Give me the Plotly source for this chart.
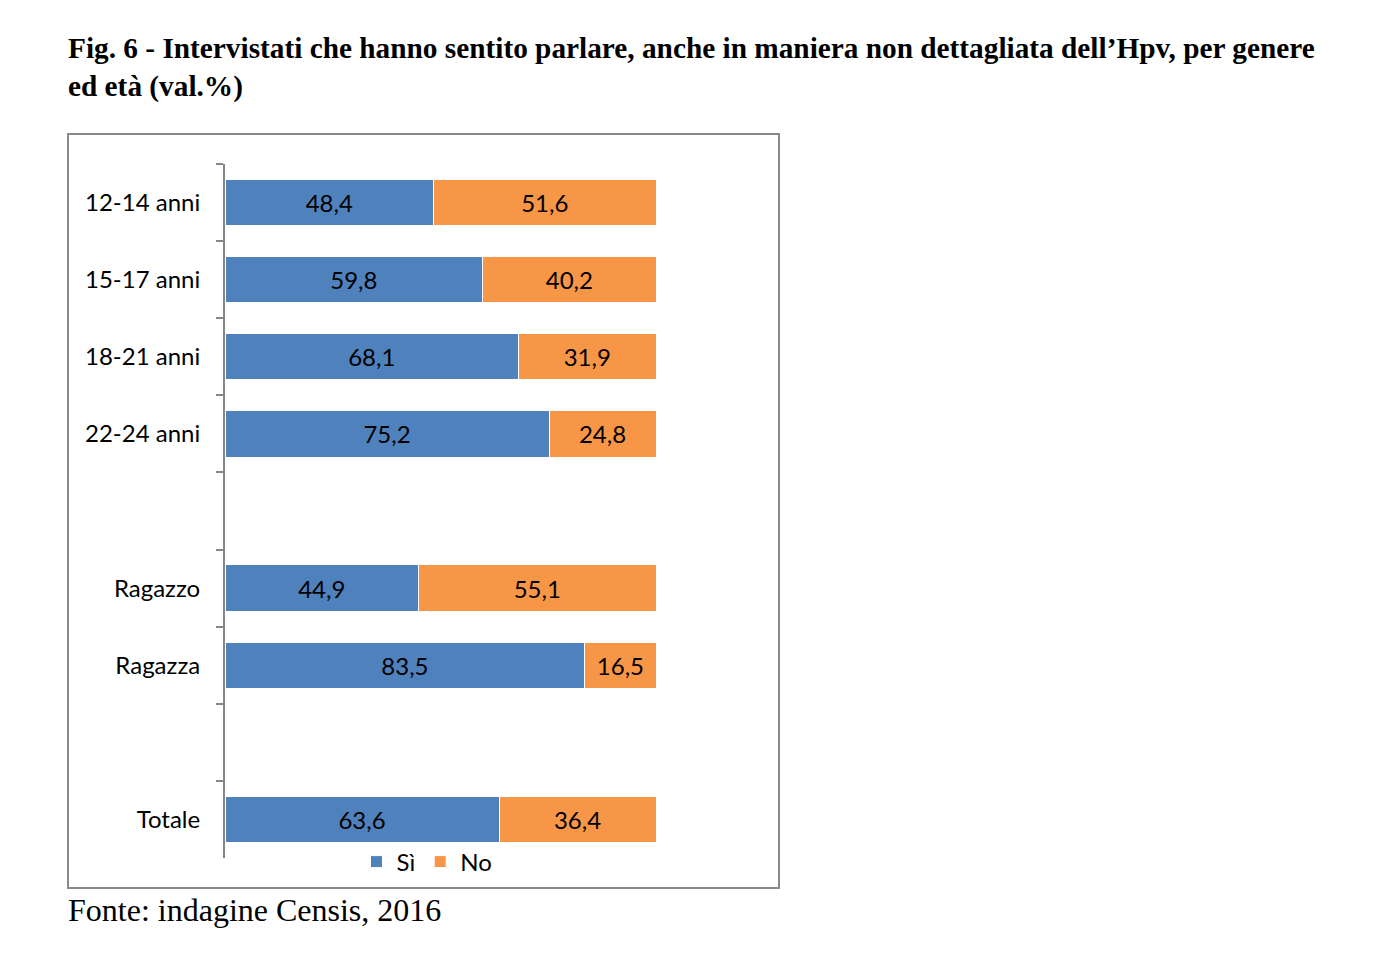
import plotly.graph_objects as go

categories = ["12-14 anni", "15-17 anni", "18-21 anni", "22-24 anni", " ", "Ragazzo", "Ragazza", "  ", "Totale"]
si_values = [48.4, 59.8, 68.1, 75.2, None, 44.9, 83.5, None, 63.6]
no_values = [51.6, 40.2, 31.9, 24.8, None, 55.1, 16.5, None, 36.4]

W, H = 1374, 953
OFF = 8  # page body margin
L, R = 225 - OFF, 656 - OFF
T, B = 164 - OFF, 858 - OFF

def px_x(px):
    return (px - OFF - L) / (R - L)

def px_y(py):
    return (B - (py - OFF)) / (B - T)

font_sans = "Lato, 'Open Sans', sans-serif"
font_serif = "'Liberation Serif', 'Times New Roman', serif"

fig = go.Figure()
fig.add_trace(go.Bar(
    y=categories, x=si_values, name="Sì", orientation="h",
    marker=dict(color="#4F81BD", line=dict(color="white", width=1)),
    texttemplate="%{x:.1f}", textposition="inside", insidetextanchor="middle",
    textfont=dict(color="black", size=24, family=font_sans),
))
fig.add_trace(go.Bar(
    y=categories, x=no_values, name="No", orientation="h",
    marker=dict(color="#F79646", line=dict(color="white", width=1)),
    texttemplate="%{x:.1f}", textposition="inside", insidetextanchor="middle",
    textfont=dict(color="black", size=24, family=font_sans),
))

fig.update_layout(
    width=W, height=H,
    barmode="stack", bargap=0.40,
    separators=",.",
    plot_bgcolor="white", paper_bgcolor="white",
    margin=dict(l=L, r=W - R, t=T, b=H - B, autoexpand=False),
    uniformtext=dict(mode="show", minsize=24),
    font=dict(family=font_sans, color="black"),
    xaxis=dict(visible=False, range=[0, 100], fixedrange=True),
    yaxis=dict(
        type="category", categoryorder="array", categoryarray=categories,
        autorange="reversed", showline=True, linecolor="#868686", linewidth=2,
        ticks="outside", tickson="boundaries", ticklen=7, tickwidth=2, tickcolor="#868686",
        tickfont=dict(size=24, family=font_sans, color="black"),
        ticklabelstandoff=18, showgrid=False, zeroline=False,
    ),
    legend=dict(
        orientation="h", x=px_x(427), y=px_y(862), xanchor="center", yanchor="middle",
        font=dict(size=24, family=font_sans), itemwidth=30, traceorder="normal",
        bgcolor="rgba(0,0,0,0)",
    ),
    title=dict(
        text="Fig. 6 - Intervistati che hanno sentito parlare, anche in maniera non dettagliata dell’Hpv, per genere<br>ed età (val.%)",
        x=(68 - OFF) / W, xanchor="left", xref="container",
        y=1 - 50 / H, yanchor="top", yref="container",
        font=dict(family=font_serif, size=29.3, color="black", weight="bold"),
    ),
    showlegend=True,
)

fig.add_shape(
    type="rect", xref="paper", yref="paper",
    x0=px_x(68), x1=px_x(779), y0=px_y(888), y1=px_y(134),
    line=dict(color="#8A8A8A", width=2), fillcolor="rgba(0,0,0,0)", layer="below",
)

fig.add_annotation(
    text="Fonte: indagine Censis, 2016", xref="paper", yref="paper",
    x=px_x(66), y=px_y(910), xanchor="left", yanchor="middle", showarrow=False,
    font=dict(family=font_serif, size=32, color="black"),
)

fig.write_html("out.html")
